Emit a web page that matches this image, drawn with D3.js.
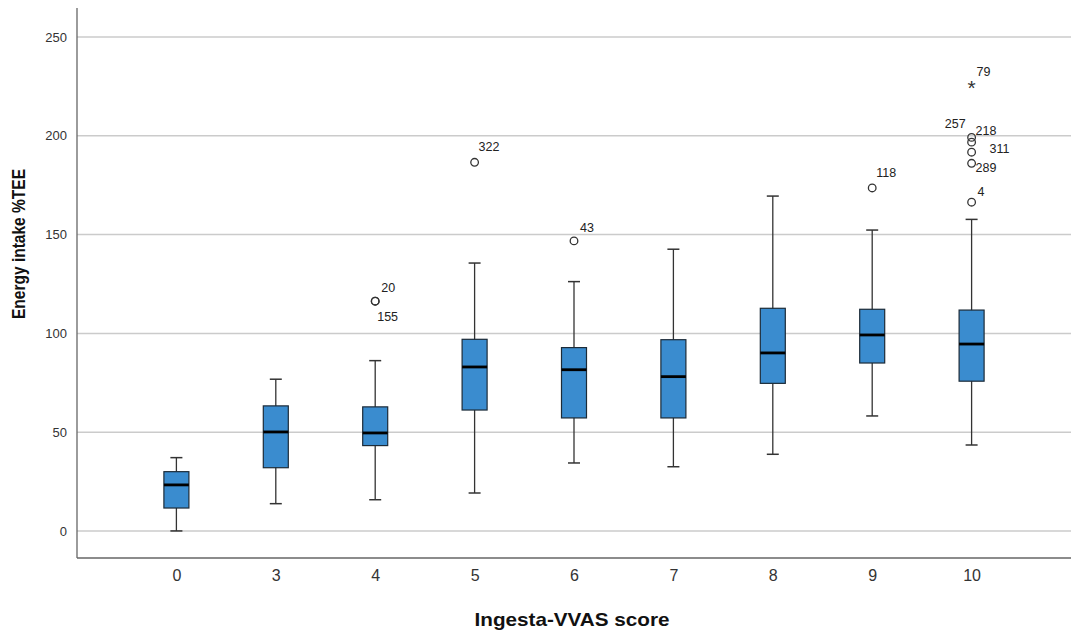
<!DOCTYPE html>
<html lang="en">

<head>
	<meta charset="utf-8">
	<title>Energy intake by Ingesta-VVAS score</title>
	<script src="https://d3js.org/d3.v7.js"></script>
	<style>
		body { margin: 0; background: #fff; }
		svg text { font-family: "Liberation Sans", Arial, sans-serif; }
	</style>
</head>

<body>
	<div id="chart"></div>

	<script>
		// box plot summary values
		const categories = ["0", "3", "4", "5", "6", "7", "8", "9", "10"];
		const whiskerLow = [0, 13.8, 15.8, 19.2, 34.4, 32.5, 38.8, 58.2, 43.5];
		const q1 = [11.6, 32, 43.2, 61.2, 57.2, 57.2, 74.7, 85, 75.8];
		const medians = [23.3, 50.1, 49.6, 83, 81.6, 78.1, 90.1, 99.2, 94.6];
		const q3 = [30, 63.3, 62.8, 97, 92.8, 96.8, 112.7, 112.2, 111.8];
		const whiskerHigh = [37.1, 76.8, 86.2, 135.6, 126.2, 142.6, 169.5, 152.3, 157.7];

		// outliers: category, value, case label, kind
		const outCat = ["4", "4", "5", "6", "9", "10", "10", "10", "10", "10", "10"];
		const outVal = [116.3, 116.3, 186.6, 146.8, 173.6, 199.2, 196.8, 191.7, 186.1, 166.4, 226.4];
		const outId = ["20", "155", "322", "43", "118", "257", "218", "311", "289", "4", "79"];
		const outKind = ["o", "o", "o", "o", "o", "o", "o", "o", "o", "o", "*"];

		const yTicks = [0, 50, 100, 150, 200, 250];

		// label offsets (px) so the case numbers sit like the original
		const labelOffset = {
			"20": [6, -13, "start"], "155": [2, 16, "start"], "322": [4, -15, "start"],
			"43": [6, -13, "start"], "118": [4, -15, "start"], "257": [-6, -13, "end"],
			"218": [4, -11, "start"], "311": [18, -3, "start"], "289": [4, 5, "start"],
			"4": [6, -10, "start"], "79": [5, -12, "start"]
		};

		const W = 1073, H = 632;
		const pLeft = 77, pRight = 1071, pTop = 8, pBottom = 558;

		const svg = d3.select("#chart")
			.append("svg")
			.attr("width", W)
			.attr("height", H);

		const x = d3.scalePoint()
			.domain(categories)
			.range([pLeft, pRight])
			.padding(1);

		const y = d3.scaleLinear()
			.domain([-13.7, 264.7])
			.range([pBottom, pTop]);

		// gridlines
		svg.selectAll(".grid")
			.data(yTicks)
			.join("line")
			.attr("x1", pLeft)
			.attr("x2", pRight)
			.attr("y1", d => y(d))
			.attr("y2", d => y(d))
			.style("stroke", "#cbcbcb")
			.style("stroke-width", 1.5);

		// y axis
		const yAxis = svg.append("g")
			.attr("transform", `translate(${pLeft},0)`)
			.call(d3.axisLeft(y).tickValues(yTicks).tickSize(0).tickPadding(10));
		yAxis.select(".domain").attr("d", `M0,${pTop}V${pBottom}`).style("stroke", "#666").style("stroke-width", 1.3);
		yAxis.selectAll("text").style("font-size", "13px").style("fill", "#333");

		// x axis
		const xAxis = svg.append("g")
			.attr("transform", `translate(0,${pBottom})`)
			.call(d3.axisBottom(x).tickSize(0).tickPadding(12));
		xAxis.select(".domain").attr("d", `M${pLeft},0H${pRight}`).style("stroke", "#666").style("stroke-width", 1.3);
		xAxis.selectAll("text").style("font-size", "16px").style("fill", "#333");

		// boxes
		const boxW = 25, capW = 12;
		const g = svg.selectAll(".box")
			.data(categories)
			.join("g");

		g.append("line")
			.attr("x1", d => x(d)).attr("x2", d => x(d))
			.attr("y1", (d, i) => y(whiskerLow[i]))
			.attr("y2", (d, i) => y(whiskerHigh[i]))
			.style("stroke", "#333").style("stroke-width", 1.3);

		g.append("line")
			.attr("x1", d => x(d) - capW / 2).attr("x2", d => x(d) + capW / 2)
			.attr("y1", (d, i) => y(whiskerHigh[i])).attr("y2", (d, i) => y(whiskerHigh[i]))
			.style("stroke", "#333").style("stroke-width", 1.5);

		g.append("line")
			.attr("x1", d => x(d) - capW / 2).attr("x2", d => x(d) + capW / 2)
			.attr("y1", (d, i) => y(whiskerLow[i])).attr("y2", (d, i) => y(whiskerLow[i]))
			.style("stroke", "#333").style("stroke-width", 1.5);

		g.append("rect")
			.attr("x", d => x(d) - boxW / 2)
			.attr("width", boxW)
			.attr("y", (d, i) => y(q3[i]))
			.attr("height", (d, i) => y(q1[i]) - y(q3[i]))
			.style("fill", "#3a8ccf")
			.style("stroke", "#1c2b38")
			.style("stroke-width", 1.2);

		g.append("line")
			.attr("x1", d => x(d) - boxW / 2).attr("x2", d => x(d) + boxW / 2)
			.attr("y1", (d, i) => y(medians[i])).attr("y2", (d, i) => y(medians[i]))
			.style("stroke", "#000").style("stroke-width", 2.8);

		// outliers
		const outliers = outCat.map((c, i) => ({ cat: c, val: outVal[i], id: outId[i], kind: outKind[i] }));

		svg.selectAll(".outlier")
			.data(outliers.filter(d => d.kind === "o"))
			.join("circle")
			.attr("cx", d => x(d.cat))
			.attr("cy", d => y(d.val))
			.attr("r", 3.8)
			.style("fill", "none")
			.style("stroke", "#333")
			.style("stroke-width", 1.3);

		svg.selectAll(".extreme")
			.data(outliers.filter(d => d.kind === "*"))
			.join("text")
			.attr("x", d => x(d.cat))
			.attr("y", d => y(d.val) + 11)
			.attr("text-anchor", "middle")
			.style("font-size", "21px")
			.style("fill", "#333")
			.text("*");

		svg.selectAll(".olabel")
			.data(outliers)
			.join("text")
			.attr("x", d => x(d.cat) + labelOffset[d.id][0])
			.attr("y", d => y(d.val) + labelOffset[d.id][1] + 4)
			.attr("text-anchor", d => labelOffset[d.id][2])
			.style("font-size", "12.5px")
			.style("fill", "#222")
			.text(d => d.id);

		// axis titles
		svg.append("text")
			.attr("x", (pLeft + pRight) / 2 - 2)
			.attr("y", 626)
			.attr("text-anchor", "middle")
			.attr("textLength", 195)
			.attr("lengthAdjust", "spacingAndGlyphs")
			.style("font-size", "19px")
			.style("font-weight", "bold")
			.style("fill", "#111")
			.text("Ingesta-VVAS score");

		svg.append("text")
			.attr("transform", `translate(25,${(170 + 318) / 2}) rotate(-90)`)
			.attr("text-anchor", "middle")
			.attr("textLength", 150)
			.attr("lengthAdjust", "spacingAndGlyphs")
			.style("font-size", "19px")
			.style("font-weight", "bold")
			.style("fill", "#111")
			.text("Energy intake %TEE");
	</script>

</body>

</html>
